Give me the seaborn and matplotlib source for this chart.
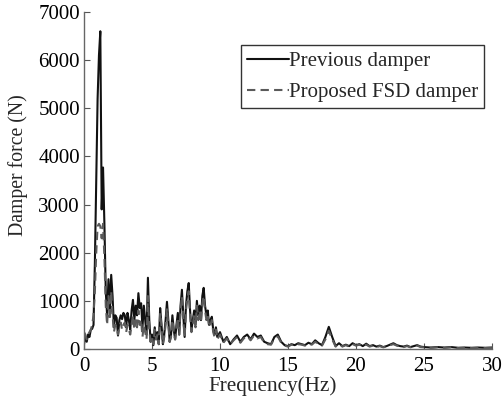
import numpy as np
import pandas as pd
import seaborn as sns
import matplotlib.pyplot as plt

# Frequency grid (Hz): 0.1 Hz steps up to 10 Hz, 0.25 Hz to 25 Hz, 0.5 Hz to 30 Hz
freq_low = [round(0.1 * i, 2) for i in range(101)]
freq_mid = [round(10 + 0.25 * i, 2) for i in range(1, 61)]
freq_high = [25.5, 26.0, 26.5, 27.0, 27.5, 28.0, 28.5, 29.0, 29.5, 30.0]

# Damper force amplitude (N), previous damper
prev_low = [100, 250, 150, 300, 250, 400, 420, 500, 1800, 3500,
            5200, 6100, 6600, 2900, 3770, 2600, 1200, 700, 1450, 800,
            1540, 1100, 450, 700, 650, 280, 600, 700, 620, 750,
            700, 450, 750, 600, 400, 800, 1020, 600, 900, 700,
            1160, 850, 950, 450, 900, 600, 300, 1480, 600, 150,
            300, 80, 450, 200, 350, 100, 850, 500, 100, 300,
            600, 980, 600, 150, 300, 700, 400, 200, 500, 750,
            300, 900, 1230, 700, 250, 900, 1200, 1370, 800, 400,
            600, 800, 500, 1000, 700, 900, 600, 1100, 1270, 900,
            700, 800, 500, 600, 670, 400, 300, 450, 250, 300,
            350]
prev_mid = [150, 250, 100, 200, 280, 150, 250, 300, 200, 320,
            250, 280, 150, 120, 100, 250, 300, 150, 80, 60,
            100, 80, 120, 100, 80, 130, 100, 180, 120, 80,
            250, 460, 250, 60, 120, 60, 90, 60, 120, 80,
            100, 60, 110, 60, 80, 50, 70, 40, 60, 90,
            120, 80, 60, 50, 70, 40, 60, 80, 50, 40]
prev_high = [30, 40, 30, 40, 25, 30, 25, 30, 25, 30]

# Damper force amplitude (N), proposed FSD damper
fsd_low = [350, 300, 200, 300, 350, 400, 500, 700, 1200, 2000,
           2550, 2600, 2550, 2300, 2600, 1900, 900, 500, 1100, 600,
           1200, 700, 350, 500, 450, 300, 450, 550, 400, 500,
           550, 350, 500, 400, 300, 500, 700, 400, 600, 450,
           800, 500, 600, 250, 500, 350, 200, 1100, 400, 150,
           250, 100, 400, 200, 300, 100, 750, 450, 100, 250,
           500, 850, 500, 150, 250, 600, 350, 200, 450, 650,
           300, 800, 1100, 600, 250, 800, 1050, 1200, 700, 350,
           500, 700, 450, 900, 600, 800, 550, 950, 1100, 800,
           600, 700, 450, 500, 600, 350, 250, 400, 200, 250,
           300]
fsd_mid = [130, 220, 100, 180, 250, 130, 220, 270, 180, 280,
           220, 250, 130, 100, 90, 220, 260, 130, 70, 50,
           90, 70, 100, 90, 70, 110, 90, 150, 100, 70,
           200, 380, 200, 50, 100, 50, 80, 50, 100, 70,
           90, 50, 90, 50, 70, 40, 60, 35, 50, 80,
           100, 70, 50, 40, 60, 35, 50, 70, 40, 35]
fsd_high = [25, 35, 25, 35, 20, 25, 20, 25, 20, 25]

freq = freq_low + freq_mid + freq_high
df = pd.concat([
    pd.DataFrame({"Frequency": freq, "Force": prev_low + prev_mid + prev_high,
                  "Damper": "Previous damper"}),
    pd.DataFrame({"Frequency": freq, "Force": fsd_low + fsd_mid + fsd_high,
                  "Damper": "Proposed FSD damper"}),
])

sns.set_style("ticks")
plt.rcParams["font.family"] = ["Liberation Serif", "DejaVu Serif"]

fig = plt.figure(figsize=(5.04, 4.05), dpi=100)
ax = fig.add_axes([84 / 504, 1 - 349 / 405, (492 - 84) / 504, (349 - 12) / 405])

sns.lineplot(data=df, x="Frequency", y="Force", hue="Damper", style="Damper",
             palette={"Previous damper": "#111111", "Proposed FSD damper": "#5a5a5a"},
             dashes={"Previous damper": "", "Proposed FSD damper": (4, 2.5)},
             linewidth=1.5, ax=ax, legend=True)

ax.set_xlim(0, 30)
ax.set_ylim(0, 7000)
ax.set_xticks([0, 5, 10, 15, 20, 25, 30])
ax.set_yticks([0, 1000, 2000, 3000, 4000, 5000, 6000, 7000])
ax.set_xlabel("Frequency(Hz)", fontsize=15.3)
ax.set_ylabel("Damper force (N)", fontsize=14.2)
ax.xaxis.set_label_coords((273 - 84) / 408, -(376 - 349) / 337)
ax.yaxis.set_label_coords(-(84 - 28) / 408, (349 - 165) / 337)
ax.tick_params(direction="in", length=4, width=0.8, labelsize=15, colors="#555555",
               labelcolor="black")
ax.tick_params(axis="x", pad=6)
ax.tick_params(axis="y", pad=3)
for side in ["top", "right"]:
    ax.spines[side].set_visible(False)
for side in ["left", "bottom"]:
    ax.spines[side].set_color("#666666")
    ax.spines[side].set_linewidth(1.0)

handles, labels = ax.get_legend_handles_labels()
leg = ax.legend(handles, labels, loc="upper left",
                bbox_to_anchor=(241 / 504, 1 - 45 / 405), bbox_transform=fig.transFigure,
                fontsize=15, frameon=True, fancybox=False, framealpha=1,
                edgecolor="#333333", handlelength=2.0, handletextpad=0.0,
                borderpad=0.3, labelspacing=0.55, borderaxespad=0)
leg.get_frame().set_linewidth(1.0)

fig.savefig("out.png", dpi=100)
